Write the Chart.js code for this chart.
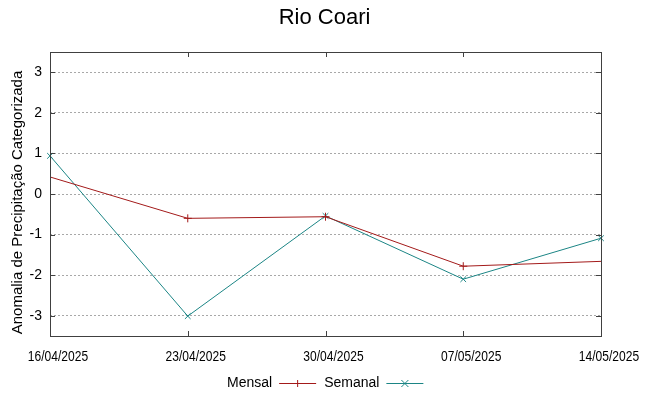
<!DOCTYPE html>
<html>
<head>
<meta charset="utf-8">
<script src="https://cdn.jsdelivr.net/npm/chart.js@4/dist/chart.umd.min.js"></script>
<style>
  html, body { margin: 0; padding: 0; background: #fff; }
</style>
</head>
<body>
<canvas id="chart" width="649" height="396"></canvas>
<script>
'use strict';

// data
const dates   = ['16/04/2025', '23/04/2025', '30/04/2025', '07/05/2025', '14/05/2025'];
const mensal  = [0.42, -0.60, -0.56, -1.78, -1.66];
const semanal = [0.94, -3.01, -0.54, -2.10, -1.09];
const yTicks  = [-3, -2, -1, 0, 1, 2, 3];

const title  = 'Rio Coari';
const yTitle = 'Anomalia de Precipitação Categorizada';

const red  = '#a31a1a';
const teal = '#1b8585';
const font = '"Liberation Sans", Arial, sans-serif';

function drawMark(ctx, style, x, y, r) {
  ctx.beginPath();
  if (style === 'cross') {
    ctx.moveTo(x - r, y); ctx.lineTo(x + r, y);
    ctx.moveTo(x, y - r); ctx.lineTo(x, y + r);
  } else {
    ctx.moveTo(x - r, y - r); ctx.lineTo(x + r, y + r);
    ctx.moveTo(x - r, y + r); ctx.lineTo(x + r, y - r);
  }
  ctx.stroke();
}

// border, inward ticks, titles, narrow date labels and gnuplot-like legend
const framePlugin = {
  id: 'frame',
  afterDraw(chart) {
    const { ctx, chartArea: a, scales } = chart;
    ctx.save();
    ctx.strokeStyle = '#404040';
    ctx.lineWidth = 1;
    ctx.strokeRect(Math.round(a.left) + 0.5, Math.round(a.top) + 0.5,
                   Math.round(a.right - a.left), Math.round(a.bottom - a.top));
    ctx.beginPath();
    dates.forEach((d, i) => {
      const x = Math.round(scales.x.getPixelForValue(i)) + 0.5;
      ctx.moveTo(x, a.bottom); ctx.lineTo(x, a.bottom - 5);
      ctx.moveTo(x, a.top); ctx.lineTo(x, a.top + 5);
    });
    yTicks.forEach(v => {
      const y = Math.round(scales.y.getPixelForValue(v)) + 0.5;
      ctx.moveTo(a.left, y); ctx.lineTo(a.left + 5, y);
      ctx.moveTo(a.right, y); ctx.lineTo(a.right - 5, y);
    });
    ctx.stroke();

    ctx.fillStyle = '#000';
    ctx.textBaseline = 'middle';
    ctx.textAlign = 'center';

    // main title
    ctx.font = '22px ' + font;
    ctx.fillText(title, chart.width / 2, 18);

    // y axis title
    ctx.save();
    ctx.translate(18, 202.5);
    ctx.rotate(-Math.PI / 2);
    ctx.font = '15px ' + font;
    ctx.fillText(yTitle, 0, 0);
    ctx.restore();

    // date labels (condensed look)
    ctx.font = '14px ' + font;
    dates.forEach((d, i) => {
      const x = scales.x.getPixelForValue(i) + 8;
      ctx.save();
      ctx.translate(x, 357);
      ctx.scale(0.86, 1);
      ctx.fillText(d, 0, 0);
      ctx.restore();
    });

    // legend
    ctx.font = '14px ' + font;
    ctx.textAlign = 'left';
    let x = 227;
    const y = 383;
    chart.data.datasets.forEach(ds => {
      ctx.fillStyle = '#000';
      ctx.fillText(ds.label, x, y);
      x += ctx.measureText(ds.label).width + 7;
      ctx.strokeStyle = ds.borderColor;
      ctx.beginPath();
      ctx.moveTo(x, y + 0.5); ctx.lineTo(x + 37, y + 0.5);
      ctx.stroke();
      drawMark(ctx, ds.pointStyle, x + 18.5, y + 0.5, 3.5);
      x += 37 + 8;
    });
    ctx.restore();
  }
};

new Chart(document.getElementById('chart'), {
  type: 'line',
  data: {
    labels: dates,
    datasets: [{
      label: 'Mensal',
      data: mensal,
      borderColor: red,
      backgroundColor: red,
      borderWidth: 1,
      pointStyle: 'cross',
      pointRadius: [0, 4, 4, 4, 0],
      pointBorderWidth: 1,
      tension: 0,
      clip: false
    }, {
      label: 'Semanal',
      data: semanal,
      borderColor: teal,
      backgroundColor: teal,
      borderWidth: 1,
      pointStyle: 'crossRot',
      pointRadius: 4,
      pointBorderWidth: 1,
      tension: 0,
      clip: false
    }]
  },
  options: {
    responsive: false,
    animation: false,
    events: [],
    layout: { padding: { left: 0, right: 48, top: 52, bottom: 0 } },
    plugins: {
      legend: { display: false },
      tooltip: { enabled: false },
      title: { display: false }
    },
    scales: {
      x: {
        type: 'category',
        offset: false,
        grid: { display: false, drawTicks: false },
        border: { display: false },
        ticks: { display: false },
        afterFit(s) { s.height = 60; }
      },
      y: {
        min: -3.5,
        max: 3.5,
        afterBuildTicks(s) { s.ticks = yTicks.map(v => ({ value: v })); },
        grid: { color: '#a8a8a8', lineWidth: 1, drawTicks: false },
        border: { display: false, dash: [2, 2] },
        ticks: {
          color: '#000',
          font: { family: font, size: 14 },
          padding: 8
        },
        afterFit(s) { s.width = 50; }
      }
    }
  },
  plugins: [framePlugin]
});
</script>
</body>
</html>
